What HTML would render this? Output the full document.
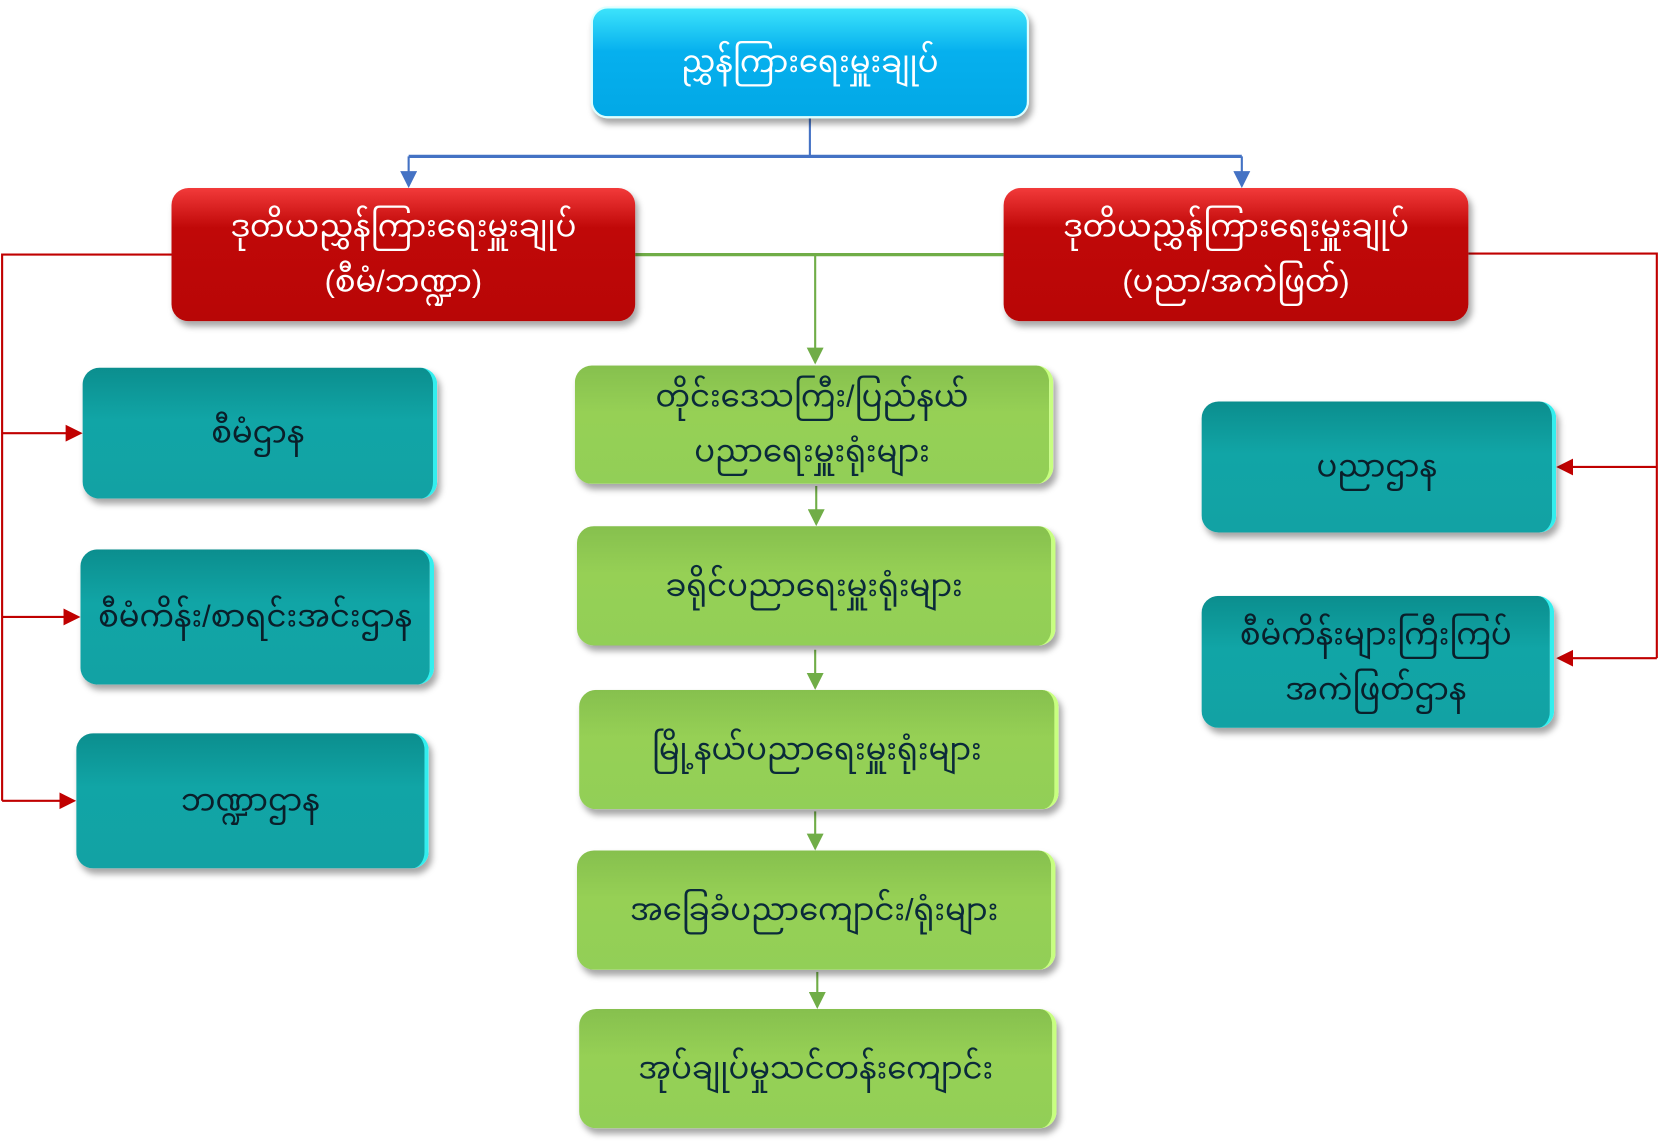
<!DOCTYPE html>
<html><head><meta charset="utf-8"><style>
html,body{margin:0;padding:0;background:#fff;width:1660px;height:1141px;overflow:hidden}
#wrap{position:absolute;left:0;top:0;width:1568px;height:1080px;transform:scale(1.05867,1.05648);transform-origin:0 0}
.b{position:absolute;border-radius:16px;display:flex;align-items:center;justify-content:center;text-align:center;font-family:"Liberation Sans","Noto Sans Myanmar","Padauk","Myanmar Text",sans-serif;font-size:29px;line-height:52px;box-shadow:3px 5px 6px rgba(0,0,0,.35)}
.cy{background:linear-gradient(#3ce3fb,#06b0ee 40%,#02a8e6);color:#fff;border:2px solid #dff}
.rd{background:linear-gradient(#f23a3a,#c00808 30%,#b80606);color:#fff}
.tl{background:linear-gradient(#0b8e8e,#11a5a6 40%,#12a2a4);color:#0a1f2a;border-right:4px solid #3ee}
.gr{background:linear-gradient(#86c04e,#96d055 40%,#92cf57);color:#0a2a3a;border-right:4px solid #c8ff80}
svg{position:absolute;left:0;top:0}
</style></head><body><div id="wrap">
<svg width="1568" height="1080">
<defs>
<marker id="ab" markerWidth="8" markerHeight="8" refX="7" refY="4" orient="auto"><path d="M0,0L8,4L0,8z" fill="#4472c4"/></marker>
<marker id="ag" markerWidth="8" markerHeight="8" refX="7" refY="4" orient="auto"><path d="M0,0L8,4L0,8z" fill="#70ad47"/></marker>
<marker id="ar" markerWidth="8" markerHeight="8" refX="7" refY="4" orient="auto"><path d="M0,0L8,4L0,8z" fill="#c00000"/></marker>
</defs>
<g fill="none" stroke="#4472c4" stroke-width="2">
<path d="M765,112V148"/><path d="M386,148H1173" stroke-width="3"/>
<path d="M386,148V176" marker-end="url(#ab)"/><path d="M1173,148V176" marker-end="url(#ab)"/>
</g>
<g fill="none" stroke="#70ad47" stroke-width="2">
<path d="M600,241H948" stroke-width="3"/>
<path d="M770,241V343" marker-end="url(#ag)"/>
<path d="M771,460V496" marker-end="url(#ag)"/>
<path d="M770,615V651" marker-end="url(#ag)"/>
<path d="M770,768V803" marker-end="url(#ag)"/>
<path d="M772,920V953" marker-end="url(#ag)"/>
</g>
<g fill="none" stroke="#c00000" stroke-width="2">
<path d="M162,241H2V758"/>
<path d="M2,410H76" marker-end="url(#ar)"/>
<path d="M2,584H74" marker-end="url(#ar)"/>
<path d="M2,758H70" marker-end="url(#ar)"/>
<path d="M1387,240H1565V623"/>
<path d="M1565,442H1472" marker-end="url(#ar)"/>
<path d="M1565,623H1472" marker-end="url(#ar)"/>
</g>
</svg>
<div class="b cy" style="left:558px;top:6px;width:410px;height:102px">ညွှန်ကြားရေးမှူးချုပ်</div>
<div class="b rd" style="left:162px;top:178px;width:438px;height:126px">ဒုတိယညွှန်ကြားရေးမှူးချုပ်<br>(စီမံ/ဘဏ္ဍာ)</div>
<div class="b rd" style="left:948px;top:178px;width:439px;height:126px">ဒုတိယညွှန်ကြားရေးမှူးချုပ်<br>(ပညာ/အကဲဖြတ်)</div>
<div class="b tl" style="left:78px;top:348px;width:331px;height:124px">စီမံဌာန</div>
<div class="b tl" style="left:76px;top:520px;width:330px;height:128px">စီမံကိန်း/စာရင်းအင်းဌာန</div>
<div class="b tl" style="left:72px;top:694px;width:329px;height:128px">ဘဏ္ဍာဌာန</div>
<div class="b tl" style="left:1135px;top:380px;width:331px;height:124px">ပညာဌာန</div>
<div class="b tl" style="left:1135px;top:564px;width:329px;height:125px">စီမံကိန်းများကြီးကြပ်<br>အကဲဖြတ်ဌာန</div>
<div class="b gr" style="left:543px;top:346px;width:448px;height:112px">တိုင်းဒေသကြီး/ပြည်နယ်<br>ပညာရေးမှူးရုံးများ</div>
<div class="b gr" style="left:545px;top:498px;width:448px;height:113px">ခရိုင်ပညာရေးမှူးရုံးများ</div>
<div class="b gr" style="left:547px;top:653px;width:449px;height:113px">မြို့နယ်ပညာရေးမှူးရုံးများ</div>
<div class="b gr" style="left:545px;top:805px;width:448px;height:113px">အခြေခံပညာကျောင်း/ရုံးများ</div>
<div class="b gr" style="left:547px;top:955px;width:447px;height:113px">အုပ်ချုပ်မှုသင်တန်းကျောင်း</div>
</div></body></html>
